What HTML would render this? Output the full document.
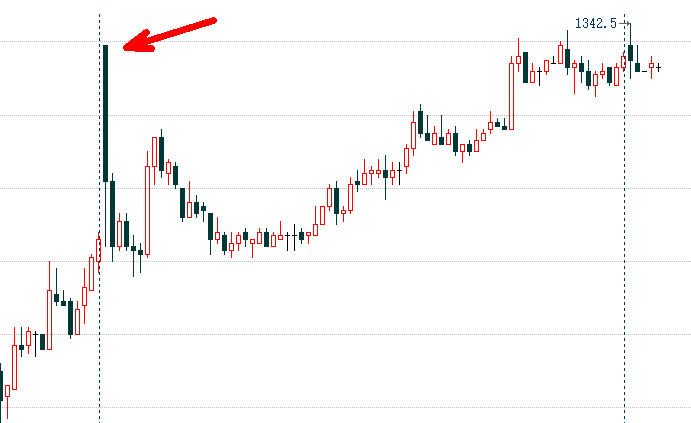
<!DOCTYPE html>
<html><head><meta charset="utf-8"><title>chart</title>
<style>
html,body{margin:0;padding:0;background:#ffffff;}
body{width:691px;height:423px;overflow:hidden;position:relative;font-family:"Liberation Serif",serif;}
svg{position:absolute;left:0;top:0;display:block;}
</style></head><body>
<svg width="691" height="423" viewBox="0 0 691 423" shape-rendering="crispEdges">
<rect x="0" y="0" width="691" height="423" fill="#ffffff"/>
<line x1="0" y1="41.5" x2="691" y2="41.5" stroke="#c0c0c0" stroke-width="1" stroke-dasharray="1 1"/><line x1="0" y1="115.5" x2="691" y2="115.5" stroke="#c0c0c0" stroke-width="1" stroke-dasharray="1 1"/><line x1="0" y1="188.5" x2="691" y2="188.5" stroke="#c0c0c0" stroke-width="1" stroke-dasharray="1 1"/><line x1="0" y1="261.5" x2="691" y2="261.5" stroke="#c0c0c0" stroke-width="1" stroke-dasharray="1 1"/><line x1="0" y1="334.5" x2="691" y2="334.5" stroke="#c0c0c0" stroke-width="1" stroke-dasharray="1 1"/><line x1="0" y1="407.5" x2="691" y2="407.5" stroke="#c0c0c0" stroke-width="1" stroke-dasharray="1 1"/>
<rect x="619" y="23" width="11" height="1" fill="#666666"/><rect x="627" y="21" width="1" height="5" fill="#666666"/><rect x="628" y="22" width="1" height="3" fill="#666666"/>
<rect x="0" y="363" width="1" height="61" fill="#003838"/><rect x="-2" y="371" width="5" height="30" fill="#003838"/><rect x="7" y="397" width="1" height="22" fill="#ff0000"/><rect x="5" y="385" width="5" height="1" fill="#ff0000"/><rect x="5" y="396" width="5" height="1" fill="#ff0000"/><rect x="5" y="386" width="1" height="10" fill="#ff0000"/><rect x="9" y="386" width="1" height="10" fill="#ff0000"/><rect x="14" y="327" width="1" height="18" fill="#ff0000"/><rect x="12" y="345" width="5" height="1" fill="#ff0000"/><rect x="12" y="389" width="5" height="1" fill="#ff0000"/><rect x="12" y="346" width="1" height="43" fill="#ff0000"/><rect x="16" y="346" width="1" height="43" fill="#ff0000"/><rect x="21" y="327" width="1" height="30" fill="#003838"/><rect x="19" y="345" width="5" height="5" fill="#003838"/><rect x="28" y="327" width="1" height="4" fill="#ff0000"/><rect x="28" y="346" width="1" height="8" fill="#ff0000"/><rect x="26" y="331" width="5" height="1" fill="#ff0000"/><rect x="26" y="345" width="5" height="1" fill="#ff0000"/><rect x="26" y="332" width="1" height="13" fill="#ff0000"/><rect x="30" y="332" width="1" height="13" fill="#ff0000"/><rect x="35" y="331" width="1" height="26" fill="#000000"/><rect x="33" y="334" width="5" height="1" fill="#000000"/><rect x="42" y="334" width="1" height="16" fill="#003838"/><rect x="40" y="334" width="5" height="16" fill="#003838"/><rect x="49" y="261" width="1" height="29" fill="#ff0000"/><rect x="47" y="290" width="5" height="1" fill="#ff0000"/><rect x="47" y="349" width="5" height="1" fill="#ff0000"/><rect x="47" y="291" width="1" height="58" fill="#ff0000"/><rect x="51" y="291" width="1" height="58" fill="#ff0000"/><rect x="56" y="268" width="1" height="38" fill="#003838"/><rect x="54" y="294" width="5" height="8" fill="#003838"/><rect x="63" y="290" width="1" height="16" fill="#003838"/><rect x="61" y="301" width="5" height="5" fill="#003838"/><rect x="70" y="298" width="1" height="41" fill="#003838"/><rect x="68" y="301" width="5" height="34" fill="#003838"/><rect x="77" y="301" width="1" height="8" fill="#ff0000"/><rect x="75" y="309" width="5" height="1" fill="#ff0000"/><rect x="75" y="334" width="5" height="1" fill="#ff0000"/><rect x="75" y="310" width="1" height="24" fill="#ff0000"/><rect x="79" y="310" width="1" height="24" fill="#ff0000"/><rect x="84" y="268" width="1" height="19" fill="#ff0000"/><rect x="84" y="306" width="1" height="18" fill="#ff0000"/><rect x="82" y="287" width="5" height="1" fill="#ff0000"/><rect x="82" y="305" width="5" height="1" fill="#ff0000"/><rect x="82" y="288" width="1" height="17" fill="#ff0000"/><rect x="86" y="288" width="1" height="17" fill="#ff0000"/><rect x="91" y="254" width="1" height="3" fill="#ff0000"/><rect x="89" y="257" width="5" height="1" fill="#ff0000"/><rect x="89" y="290" width="5" height="1" fill="#ff0000"/><rect x="89" y="258" width="1" height="32" fill="#ff0000"/><rect x="93" y="258" width="1" height="32" fill="#ff0000"/><rect x="98" y="232" width="1" height="7" fill="#ff0000"/><rect x="98" y="262" width="1" height="11" fill="#ff0000"/><rect x="96" y="239" width="5" height="1" fill="#ff0000"/><rect x="96" y="261" width="5" height="1" fill="#ff0000"/><rect x="96" y="240" width="1" height="21" fill="#ff0000"/><rect x="100" y="240" width="1" height="21" fill="#ff0000"/><rect x="105" y="45" width="1" height="202" fill="#003838"/><rect x="103" y="45" width="5" height="137" fill="#003838"/><rect x="112" y="173" width="1" height="89" fill="#003838"/><rect x="110" y="181" width="5" height="66" fill="#003838"/><rect x="119" y="213" width="1" height="8" fill="#ff0000"/><rect x="119" y="247" width="1" height="4" fill="#ff0000"/><rect x="117" y="221" width="5" height="1" fill="#ff0000"/><rect x="117" y="246" width="5" height="1" fill="#ff0000"/><rect x="117" y="222" width="1" height="24" fill="#ff0000"/><rect x="121" y="222" width="1" height="24" fill="#ff0000"/><rect x="126" y="213" width="1" height="38" fill="#003838"/><rect x="124" y="221" width="5" height="26" fill="#003838"/><rect x="133" y="235" width="1" height="42" fill="#003838"/><rect x="131" y="246" width="5" height="5" fill="#003838"/><rect x="140" y="243" width="1" height="30" fill="#003838"/><rect x="138" y="250" width="5" height="5" fill="#003838"/><rect x="147" y="151" width="1" height="15" fill="#ff0000"/><rect x="147" y="255" width="1" height="3" fill="#ff0000"/><rect x="145" y="166" width="5" height="1" fill="#ff0000"/><rect x="145" y="254" width="5" height="1" fill="#ff0000"/><rect x="145" y="167" width="1" height="87" fill="#ff0000"/><rect x="149" y="167" width="1" height="87" fill="#ff0000"/><rect x="154" y="167" width="1" height="18" fill="#ff0000"/><rect x="152" y="137" width="5" height="1" fill="#ff0000"/><rect x="152" y="166" width="5" height="1" fill="#ff0000"/><rect x="152" y="138" width="1" height="28" fill="#ff0000"/><rect x="156" y="138" width="1" height="28" fill="#ff0000"/><rect x="161" y="129" width="1" height="49" fill="#003838"/><rect x="159" y="137" width="5" height="34" fill="#003838"/><rect x="168" y="159" width="1" height="3" fill="#ff0000"/><rect x="168" y="174" width="1" height="11" fill="#ff0000"/><rect x="166" y="162" width="5" height="1" fill="#ff0000"/><rect x="166" y="173" width="5" height="1" fill="#ff0000"/><rect x="166" y="163" width="1" height="10" fill="#ff0000"/><rect x="170" y="163" width="1" height="10" fill="#ff0000"/><rect x="175" y="162" width="1" height="27" fill="#003838"/><rect x="173" y="166" width="5" height="19" fill="#003838"/><rect x="182" y="188" width="1" height="34" fill="#003838"/><rect x="180" y="188" width="5" height="30" fill="#003838"/><rect x="189" y="181" width="1" height="21" fill="#ff0000"/><rect x="187" y="202" width="5" height="1" fill="#ff0000"/><rect x="187" y="217" width="5" height="1" fill="#ff0000"/><rect x="187" y="203" width="1" height="14" fill="#ff0000"/><rect x="191" y="203" width="1" height="14" fill="#ff0000"/><rect x="196" y="195" width="1" height="23" fill="#003838"/><rect x="194" y="202" width="5" height="12" fill="#003838"/><rect x="203" y="202" width="1" height="20" fill="#003838"/><rect x="201" y="206" width="5" height="5" fill="#003838"/><rect x="210" y="213" width="1" height="42" fill="#003838"/><rect x="208" y="213" width="5" height="27" fill="#003838"/><rect x="217" y="217" width="1" height="15" fill="#ff0000"/><rect x="217" y="240" width="1" height="4" fill="#ff0000"/><rect x="215" y="232" width="5" height="1" fill="#ff0000"/><rect x="215" y="239" width="5" height="1" fill="#ff0000"/><rect x="215" y="233" width="1" height="6" fill="#ff0000"/><rect x="219" y="233" width="1" height="6" fill="#ff0000"/><rect x="224" y="232" width="1" height="23" fill="#003838"/><rect x="222" y="235" width="5" height="16" fill="#003838"/><rect x="231" y="232" width="1" height="11" fill="#ff0000"/><rect x="231" y="251" width="1" height="7" fill="#ff0000"/><rect x="229" y="243" width="5" height="1" fill="#ff0000"/><rect x="229" y="250" width="5" height="1" fill="#ff0000"/><rect x="229" y="244" width="1" height="6" fill="#ff0000"/><rect x="233" y="244" width="1" height="6" fill="#ff0000"/><rect x="238" y="232" width="1" height="3" fill="#ff0000"/><rect x="238" y="244" width="1" height="7" fill="#ff0000"/><rect x="236" y="235" width="5" height="1" fill="#ff0000"/><rect x="236" y="243" width="5" height="1" fill="#ff0000"/><rect x="236" y="236" width="1" height="7" fill="#ff0000"/><rect x="240" y="236" width="1" height="7" fill="#ff0000"/><rect x="245" y="228" width="1" height="19" fill="#003838"/><rect x="243" y="232" width="5" height="8" fill="#003838"/><rect x="252" y="244" width="1" height="14" fill="#ff0000"/><rect x="250" y="239" width="5" height="1" fill="#ff0000"/><rect x="250" y="243" width="5" height="1" fill="#ff0000"/><rect x="250" y="240" width="1" height="3" fill="#ff0000"/><rect x="254" y="240" width="1" height="3" fill="#ff0000"/><rect x="259" y="228" width="1" height="4" fill="#ff0000"/><rect x="257" y="232" width="5" height="1" fill="#ff0000"/><rect x="257" y="243" width="5" height="1" fill="#ff0000"/><rect x="257" y="233" width="1" height="10" fill="#ff0000"/><rect x="261" y="233" width="1" height="10" fill="#ff0000"/><rect x="266" y="228" width="1" height="19" fill="#003838"/><rect x="264" y="232" width="5" height="15" fill="#003838"/><rect x="273" y="232" width="1" height="3" fill="#ff0000"/><rect x="271" y="235" width="5" height="1" fill="#ff0000"/><rect x="271" y="246" width="5" height="1" fill="#ff0000"/><rect x="271" y="236" width="1" height="10" fill="#ff0000"/><rect x="275" y="236" width="1" height="10" fill="#ff0000"/><rect x="280" y="221" width="1" height="14" fill="#ff0000"/><rect x="278" y="235" width="5" height="1" fill="#ff0000"/><rect x="278" y="239" width="5" height="1" fill="#ff0000"/><rect x="278" y="236" width="1" height="3" fill="#ff0000"/><rect x="282" y="236" width="1" height="3" fill="#ff0000"/><rect x="287" y="232" width="1" height="19" fill="#000000"/><rect x="285" y="235" width="5" height="1" fill="#000000"/><rect x="294" y="224" width="1" height="27" fill="#000000"/><rect x="292" y="235" width="5" height="1" fill="#000000"/><rect x="301" y="228" width="1" height="16" fill="#003838"/><rect x="299" y="232" width="5" height="8" fill="#003838"/><rect x="308" y="236" width="1" height="8" fill="#ff0000"/><rect x="306" y="232" width="5" height="1" fill="#ff0000"/><rect x="306" y="235" width="5" height="1" fill="#ff0000"/><rect x="306" y="233" width="1" height="2" fill="#ff0000"/><rect x="310" y="233" width="1" height="2" fill="#ff0000"/><rect x="315" y="206" width="1" height="18" fill="#ff0000"/><rect x="313" y="224" width="5" height="1" fill="#ff0000"/><rect x="313" y="235" width="5" height="1" fill="#ff0000"/><rect x="313" y="225" width="1" height="10" fill="#ff0000"/><rect x="317" y="225" width="1" height="10" fill="#ff0000"/><rect x="320" y="206" width="5" height="1" fill="#ff0000"/><rect x="320" y="224" width="5" height="1" fill="#ff0000"/><rect x="320" y="207" width="1" height="17" fill="#ff0000"/><rect x="324" y="207" width="1" height="17" fill="#ff0000"/><rect x="329" y="184" width="1" height="4" fill="#ff0000"/><rect x="329" y="207" width="1" height="4" fill="#ff0000"/><rect x="327" y="188" width="5" height="1" fill="#ff0000"/><rect x="327" y="206" width="5" height="1" fill="#ff0000"/><rect x="327" y="189" width="1" height="17" fill="#ff0000"/><rect x="331" y="189" width="1" height="17" fill="#ff0000"/><rect x="336" y="181" width="1" height="44" fill="#003838"/><rect x="334" y="188" width="5" height="26" fill="#003838"/><rect x="343" y="206" width="1" height="4" fill="#ff0000"/><rect x="343" y="214" width="1" height="8" fill="#ff0000"/><rect x="341" y="210" width="5" height="1" fill="#ff0000"/><rect x="341" y="213" width="5" height="1" fill="#ff0000"/><rect x="341" y="211" width="1" height="2" fill="#ff0000"/><rect x="345" y="211" width="1" height="2" fill="#ff0000"/><rect x="350" y="177" width="1" height="7" fill="#ff0000"/><rect x="350" y="211" width="1" height="3" fill="#ff0000"/><rect x="348" y="184" width="5" height="1" fill="#ff0000"/><rect x="348" y="210" width="5" height="1" fill="#ff0000"/><rect x="348" y="185" width="1" height="25" fill="#ff0000"/><rect x="352" y="185" width="1" height="25" fill="#ff0000"/><rect x="357" y="170" width="1" height="22" fill="#003838"/><rect x="355" y="181" width="5" height="4" fill="#003838"/><rect x="364" y="159" width="1" height="14" fill="#ff0000"/><rect x="362" y="173" width="5" height="1" fill="#ff0000"/><rect x="362" y="184" width="5" height="1" fill="#ff0000"/><rect x="362" y="174" width="1" height="10" fill="#ff0000"/><rect x="366" y="174" width="1" height="10" fill="#ff0000"/><rect x="371" y="166" width="1" height="4" fill="#ff0000"/><rect x="371" y="174" width="1" height="11" fill="#ff0000"/><rect x="369" y="170" width="5" height="1" fill="#ff0000"/><rect x="369" y="173" width="5" height="1" fill="#ff0000"/><rect x="369" y="171" width="1" height="2" fill="#ff0000"/><rect x="373" y="171" width="1" height="2" fill="#ff0000"/><rect x="378" y="159" width="1" height="11" fill="#ff0000"/><rect x="378" y="174" width="1" height="4" fill="#ff0000"/><rect x="376" y="170" width="5" height="1" fill="#ff0000"/><rect x="376" y="173" width="5" height="1" fill="#ff0000"/><rect x="376" y="171" width="1" height="2" fill="#ff0000"/><rect x="380" y="171" width="1" height="2" fill="#ff0000"/><rect x="385" y="155" width="1" height="45" fill="#003838"/><rect x="383" y="170" width="5" height="8" fill="#003838"/><rect x="392" y="162" width="1" height="8" fill="#ff0000"/><rect x="392" y="178" width="1" height="7" fill="#ff0000"/><rect x="390" y="170" width="5" height="1" fill="#ff0000"/><rect x="390" y="177" width="5" height="1" fill="#ff0000"/><rect x="390" y="171" width="1" height="6" fill="#ff0000"/><rect x="394" y="171" width="1" height="6" fill="#ff0000"/><rect x="399" y="162" width="1" height="23" fill="#000000"/><rect x="397" y="170" width="5" height="1" fill="#000000"/><rect x="406" y="144" width="1" height="4" fill="#ff0000"/><rect x="406" y="167" width="1" height="7" fill="#ff0000"/><rect x="404" y="148" width="5" height="1" fill="#ff0000"/><rect x="404" y="166" width="5" height="1" fill="#ff0000"/><rect x="404" y="149" width="1" height="17" fill="#ff0000"/><rect x="408" y="149" width="1" height="17" fill="#ff0000"/><rect x="413" y="111" width="1" height="11" fill="#ff0000"/><rect x="413" y="149" width="1" height="7" fill="#ff0000"/><rect x="411" y="122" width="5" height="1" fill="#ff0000"/><rect x="411" y="148" width="5" height="1" fill="#ff0000"/><rect x="411" y="123" width="1" height="25" fill="#ff0000"/><rect x="415" y="123" width="1" height="25" fill="#ff0000"/><rect x="420" y="104" width="1" height="34" fill="#003838"/><rect x="418" y="111" width="5" height="23" fill="#003838"/><rect x="427" y="115" width="1" height="26" fill="#003838"/><rect x="425" y="133" width="5" height="8" fill="#003838"/><rect x="434" y="126" width="1" height="7" fill="#ff0000"/><rect x="432" y="133" width="5" height="1" fill="#ff0000"/><rect x="432" y="144" width="5" height="1" fill="#ff0000"/><rect x="432" y="134" width="1" height="10" fill="#ff0000"/><rect x="436" y="134" width="1" height="10" fill="#ff0000"/><rect x="441" y="115" width="1" height="30" fill="#003838"/><rect x="439" y="137" width="5" height="8" fill="#003838"/><rect x="448" y="129" width="1" height="4" fill="#ff0000"/><rect x="446" y="133" width="5" height="1" fill="#ff0000"/><rect x="446" y="144" width="5" height="1" fill="#ff0000"/><rect x="446" y="134" width="1" height="10" fill="#ff0000"/><rect x="450" y="134" width="1" height="10" fill="#ff0000"/><rect x="455" y="126" width="1" height="30" fill="#003838"/><rect x="453" y="133" width="5" height="19" fill="#003838"/><rect x="462" y="152" width="1" height="11" fill="#ff0000"/><rect x="460" y="144" width="5" height="1" fill="#ff0000"/><rect x="460" y="151" width="5" height="1" fill="#ff0000"/><rect x="460" y="145" width="1" height="6" fill="#ff0000"/><rect x="464" y="145" width="1" height="6" fill="#ff0000"/><rect x="469" y="140" width="1" height="16" fill="#003838"/><rect x="467" y="144" width="5" height="8" fill="#003838"/><rect x="476" y="129" width="1" height="11" fill="#ff0000"/><rect x="474" y="140" width="5" height="1" fill="#ff0000"/><rect x="474" y="151" width="5" height="1" fill="#ff0000"/><rect x="474" y="141" width="1" height="10" fill="#ff0000"/><rect x="478" y="141" width="1" height="10" fill="#ff0000"/><rect x="483" y="129" width="1" height="4" fill="#ff0000"/><rect x="481" y="133" width="5" height="1" fill="#ff0000"/><rect x="481" y="140" width="5" height="1" fill="#ff0000"/><rect x="481" y="134" width="1" height="6" fill="#ff0000"/><rect x="485" y="134" width="1" height="6" fill="#ff0000"/><rect x="490" y="111" width="1" height="11" fill="#ff0000"/><rect x="490" y="130" width="1" height="4" fill="#ff0000"/><rect x="488" y="122" width="5" height="1" fill="#ff0000"/><rect x="488" y="129" width="5" height="1" fill="#ff0000"/><rect x="488" y="123" width="1" height="6" fill="#ff0000"/><rect x="492" y="123" width="1" height="6" fill="#ff0000"/><rect x="497" y="118" width="1" height="9" fill="#003838"/><rect x="495" y="122" width="5" height="5" fill="#003838"/><rect x="504" y="118" width="1" height="12" fill="#003838"/><rect x="502" y="126" width="5" height="4" fill="#003838"/><rect x="511" y="56" width="1" height="7" fill="#ff0000"/><rect x="509" y="63" width="5" height="1" fill="#ff0000"/><rect x="509" y="129" width="5" height="1" fill="#ff0000"/><rect x="509" y="64" width="1" height="65" fill="#ff0000"/><rect x="513" y="64" width="1" height="65" fill="#ff0000"/><rect x="518" y="38" width="1" height="18" fill="#ff0000"/><rect x="518" y="64" width="1" height="8" fill="#ff0000"/><rect x="516" y="56" width="5" height="1" fill="#ff0000"/><rect x="516" y="63" width="5" height="1" fill="#ff0000"/><rect x="516" y="57" width="1" height="6" fill="#ff0000"/><rect x="520" y="57" width="1" height="6" fill="#ff0000"/><rect x="525" y="52" width="1" height="31" fill="#003838"/><rect x="523" y="52" width="5" height="31" fill="#003838"/><rect x="532" y="63" width="1" height="8" fill="#ff0000"/><rect x="530" y="71" width="5" height="1" fill="#ff0000"/><rect x="530" y="82" width="5" height="1" fill="#ff0000"/><rect x="530" y="72" width="1" height="10" fill="#ff0000"/><rect x="534" y="72" width="1" height="10" fill="#ff0000"/><rect x="539" y="67" width="1" height="19" fill="#000000"/><rect x="537" y="71" width="5" height="1" fill="#000000"/><rect x="546" y="72" width="1" height="3" fill="#ff0000"/><rect x="544" y="60" width="5" height="1" fill="#ff0000"/><rect x="544" y="71" width="5" height="1" fill="#ff0000"/><rect x="544" y="61" width="1" height="10" fill="#ff0000"/><rect x="548" y="61" width="1" height="10" fill="#ff0000"/><rect x="553" y="56" width="1" height="8" fill="#000000"/><rect x="551" y="63" width="5" height="1" fill="#000000"/><rect x="560" y="41" width="1" height="4" fill="#ff0000"/><rect x="558" y="45" width="5" height="1" fill="#ff0000"/><rect x="558" y="63" width="5" height="1" fill="#ff0000"/><rect x="558" y="46" width="1" height="17" fill="#ff0000"/><rect x="562" y="46" width="1" height="17" fill="#ff0000"/><rect x="567" y="30" width="1" height="45" fill="#003838"/><rect x="565" y="49" width="5" height="19" fill="#003838"/><rect x="574" y="60" width="1" height="3" fill="#ff0000"/><rect x="574" y="68" width="1" height="26" fill="#ff0000"/><rect x="572" y="63" width="5" height="1" fill="#ff0000"/><rect x="572" y="67" width="5" height="1" fill="#ff0000"/><rect x="572" y="64" width="1" height="3" fill="#ff0000"/><rect x="576" y="64" width="1" height="3" fill="#ff0000"/><rect x="581" y="56" width="1" height="27" fill="#003838"/><rect x="579" y="63" width="5" height="9" fill="#003838"/><rect x="588" y="60" width="1" height="30" fill="#003838"/><rect x="586" y="71" width="5" height="15" fill="#003838"/><rect x="595" y="71" width="1" height="3" fill="#ff0000"/><rect x="595" y="86" width="1" height="11" fill="#ff0000"/><rect x="593" y="74" width="5" height="1" fill="#ff0000"/><rect x="593" y="85" width="5" height="1" fill="#ff0000"/><rect x="593" y="75" width="1" height="10" fill="#ff0000"/><rect x="597" y="75" width="1" height="10" fill="#ff0000"/><rect x="602" y="63" width="1" height="8" fill="#ff0000"/><rect x="602" y="75" width="1" height="4" fill="#ff0000"/><rect x="600" y="71" width="5" height="1" fill="#ff0000"/><rect x="600" y="74" width="5" height="1" fill="#ff0000"/><rect x="600" y="72" width="1" height="2" fill="#ff0000"/><rect x="604" y="72" width="1" height="2" fill="#ff0000"/><rect x="609" y="67" width="1" height="19" fill="#003838"/><rect x="607" y="67" width="5" height="16" fill="#003838"/><rect x="616" y="63" width="1" height="4" fill="#ff0000"/><rect x="614" y="67" width="5" height="1" fill="#ff0000"/><rect x="614" y="85" width="5" height="1" fill="#ff0000"/><rect x="614" y="68" width="1" height="17" fill="#ff0000"/><rect x="618" y="68" width="1" height="17" fill="#ff0000"/><rect x="623" y="52" width="1" height="4" fill="#ff0000"/><rect x="623" y="68" width="1" height="4" fill="#ff0000"/><rect x="621" y="56" width="5" height="1" fill="#ff0000"/><rect x="621" y="67" width="5" height="1" fill="#ff0000"/><rect x="621" y="57" width="1" height="10" fill="#ff0000"/><rect x="625" y="57" width="1" height="10" fill="#ff0000"/><rect x="630" y="23" width="1" height="56" fill="#003838"/><rect x="628" y="45" width="5" height="16" fill="#003838"/><rect x="637" y="45" width="1" height="27" fill="#003838"/><rect x="635" y="63" width="5" height="9" fill="#003838"/><rect x="642" y="71" width="5" height="1" fill="#000000"/><rect x="651" y="56" width="1" height="7" fill="#ff0000"/><rect x="651" y="68" width="1" height="11" fill="#ff0000"/><rect x="649" y="63" width="5" height="1" fill="#ff0000"/><rect x="649" y="67" width="5" height="1" fill="#ff0000"/><rect x="649" y="64" width="1" height="3" fill="#ff0000"/><rect x="653" y="64" width="1" height="3" fill="#ff0000"/><rect x="658" y="63" width="1" height="9" fill="#000000"/><rect x="656" y="67" width="5" height="1" fill="#000000"/>
<line x1="99.5" y1="14" x2="99.5" y2="423" stroke="#003366" stroke-width="1" stroke-dasharray="3 3"/><line x1="624.5" y1="14" x2="624.5" y2="423" stroke="#003366" stroke-width="1" stroke-dasharray="3 3"/>
<g shape-rendering="crispEdges" stroke="#ff0000" stroke-linecap="round" stroke-linejoin="round" fill="none"><path d="M213.5 20.53 L126.5 47.68" stroke-width="6.76"/><path d="M146.5 32.5 L126.5 47.7 L151.5 48.55" stroke-width="7"/><path d="M143 39.2 L148 35.5 L146.6 38 Z" fill="#ff0000" stroke="none"/></g>
<rect x="578" y="18" width="1" height="1" fill="#003366"/><rect x="576" y="19" width="3" height="1" fill="#003366"/><rect x="578" y="20" width="1" height="1" fill="#003366"/><rect x="578" y="21" width="1" height="1" fill="#003366"/><rect x="578" y="22" width="1" height="1" fill="#003366"/><rect x="578" y="23" width="1" height="1" fill="#003366"/><rect x="578" y="24" width="1" height="1" fill="#003366"/><rect x="578" y="25" width="1" height="1" fill="#003366"/><rect x="578" y="26" width="1" height="1" fill="#003366"/><rect x="576" y="27" width="5" height="1" fill="#003366"/><rect x="584" y="18" width="3" height="1" fill="#003366"/><rect x="583" y="19" width="1" height="1" fill="#003366"/><rect x="587" y="19" width="1" height="1" fill="#003366"/><rect x="583" y="20" width="1" height="1" fill="#003366"/><rect x="587" y="20" width="1" height="1" fill="#003366"/><rect x="587" y="21" width="1" height="1" fill="#003366"/><rect x="585" y="22" width="2" height="1" fill="#003366"/><rect x="587" y="23" width="1" height="1" fill="#003366"/><rect x="587" y="24" width="1" height="1" fill="#003366"/><rect x="583" y="25" width="1" height="1" fill="#003366"/><rect x="587" y="25" width="1" height="1" fill="#003366"/><rect x="583" y="26" width="1" height="1" fill="#003366"/><rect x="587" y="26" width="1" height="1" fill="#003366"/><rect x="584" y="27" width="3" height="1" fill="#003366"/><rect x="593" y="18" width="1" height="1" fill="#003366"/><rect x="592" y="19" width="2" height="1" fill="#003366"/><rect x="592" y="20" width="2" height="1" fill="#003366"/><rect x="591" y="21" width="1" height="1" fill="#003366"/><rect x="593" y="21" width="1" height="1" fill="#003366"/><rect x="591" y="22" width="1" height="1" fill="#003366"/><rect x="593" y="22" width="1" height="1" fill="#003366"/><rect x="590" y="23" width="1" height="1" fill="#003366"/><rect x="593" y="23" width="1" height="1" fill="#003366"/><rect x="590" y="24" width="5" height="1" fill="#003366"/><rect x="593" y="25" width="1" height="1" fill="#003366"/><rect x="593" y="26" width="1" height="1" fill="#003366"/><rect x="592" y="27" width="3" height="1" fill="#003366"/><rect x="598" y="18" width="3" height="1" fill="#003366"/><rect x="597" y="19" width="1" height="1" fill="#003366"/><rect x="601" y="19" width="1" height="1" fill="#003366"/><rect x="597" y="20" width="1" height="1" fill="#003366"/><rect x="601" y="20" width="1" height="1" fill="#003366"/><rect x="601" y="21" width="1" height="1" fill="#003366"/><rect x="600" y="22" width="1" height="1" fill="#003366"/><rect x="599" y="23" width="1" height="1" fill="#003366"/><rect x="598" y="24" width="1" height="1" fill="#003366"/><rect x="597" y="25" width="1" height="1" fill="#003366"/><rect x="597" y="26" width="1" height="1" fill="#003366"/><rect x="601" y="26" width="1" height="1" fill="#003366"/><rect x="597" y="27" width="5" height="1" fill="#003366"/><rect x="604" y="26" width="2" height="1" fill="#003366"/><rect x="604" y="27" width="2" height="1" fill="#003366"/><rect x="611" y="18" width="5" height="1" fill="#003366"/><rect x="611" y="19" width="1" height="1" fill="#003366"/><rect x="611" y="20" width="1" height="1" fill="#003366"/><rect x="611" y="21" width="4" height="1" fill="#003366"/><rect x="611" y="22" width="1" height="1" fill="#003366"/><rect x="615" y="22" width="1" height="1" fill="#003366"/><rect x="615" y="23" width="1" height="1" fill="#003366"/><rect x="615" y="24" width="1" height="1" fill="#003366"/><rect x="611" y="25" width="1" height="1" fill="#003366"/><rect x="615" y="25" width="1" height="1" fill="#003366"/><rect x="611" y="26" width="1" height="1" fill="#003366"/><rect x="615" y="26" width="1" height="1" fill="#003366"/><rect x="612" y="27" width="3" height="1" fill="#003366"/>
</svg>
</body></html>
